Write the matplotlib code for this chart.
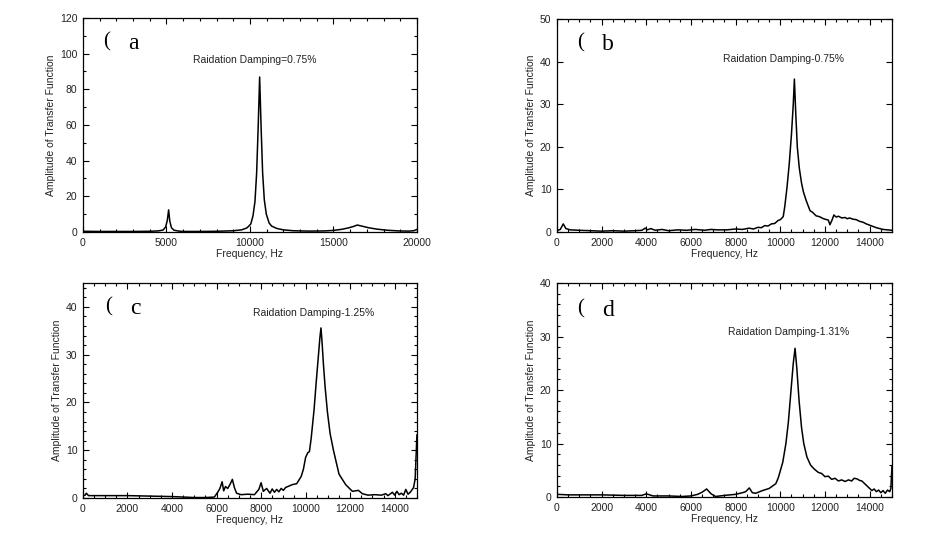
import matplotlib
matplotlib.use("Agg")
import matplotlib.pyplot as plt
from matplotlib.ticker import MultipleLocator, NullLocator

plt.rcParams["font.family"] = ["Liberation Sans", "DejaVu Sans"]

# --- data (Hz, amplitude) ---
freq_a = [0, 1000, 2000, 3000, 4000, 4500, 4800, 4950, 5050, 5130, 5200, 5300,
          5450, 5750, 6000, 7000, 8000, 9000, 9500, 9800, 9900, 10050, 10180,
          10300, 10400, 10490, 10580, 10670, 10760, 10860, 10980, 11150, 11300,
          11600, 12000, 12600, 13500, 14500, 15000, 15500, 15900, 16200, 16430,
          16700, 17100, 17600, 18200, 18900, 19500, 19800, 20000]
amp_a = [0.4, 0.3, 0.3, 0.3, 0.4, 0.6, 1.1, 2.8, 6.5, 12.4, 6.0, 2.4,
         1.0, 0.5, 0.3, 0.3, 0.4, 0.7, 1.2, 2.2, 3.0, 4.5, 9.0,
         17.0, 33.0, 58.0, 86.9, 58.0, 33.0, 18.0, 10.0, 5.0, 3.3,
         2.0, 1.2, 0.7, 0.5, 0.6, 0.9, 1.5, 2.3, 3.1, 3.9,
         3.3, 2.4, 1.6, 1.0, 0.6, 0.5, 0.7, 1.4]

freq_b = [0, 150, 280, 400, 600, 1000, 1500, 2000, 2500, 3000, 3500, 3800, 3950,
          4050, 4200, 4400, 4700, 5000, 5400, 5800, 6200, 6600, 6900, 7200, 7600,
          8000, 8300, 8600, 8800, 9000, 9150, 9300, 9450, 9600, 9750, 9900, 10000,
          10130, 10200, 10300, 10400, 10500, 10580, 10630, 10690, 10760, 10850,
          10950, 11030, 11150, 11330, 11450, 11600, 11750, 11900, 12000, 12150,
          12220, 12300, 12400, 12500, 12600, 12750, 12900, 13000, 13100, 13250,
          13400, 13550, 13700, 13850, 14000, 14150, 14300, 14450, 14600, 14800, 15000]
amp_b = [0.3, 0.6, 1.9, 0.8, 0.5, 0.4, 0.3, 0.2, 0.3, 0.2, 0.3, 0.4, 0.9,
         0.5, 0.8, 0.4, 0.6, 0.3, 0.5, 0.4, 0.6, 0.4, 0.6, 0.5, 0.5,
         0.7, 0.6, 0.9, 0.7, 1.1, 1.0, 1.5, 1.4, 1.9, 2.0, 2.7, 2.9,
         3.6, 6.0, 10.5, 16.0, 23.0, 30.0, 35.9, 28.0, 20.0, 15.0,
         11.5, 9.5, 7.5, 5.0, 4.6, 3.8, 3.6, 3.2, 3.0, 2.8,
         1.7, 2.6, 4.0, 3.5, 3.7, 3.3, 3.4, 3.1, 3.3, 3.0,
         2.9, 2.5, 2.3, 1.9, 1.6, 1.3, 1.0, 0.8, 0.6, 0.5, 0.4]

freq_c = [0, 100, 150, 250, 1000, 2000, 3000, 4000, 4500, 5000, 5500, 5900, 6050,
          6150, 6250, 6320, 6400, 6500, 6600, 6710, 6800, 6900, 7100, 7400, 7700,
          7900, 8000, 8100, 8250, 8400, 8500, 8600, 8700, 8800, 8900, 9000, 9100,
          9200, 9400, 9600, 9800, 9900, 10000, 10100, 10170, 10250, 10380, 10480,
          10570, 10640, 10690, 10740, 10800, 10880, 10980, 11100, 11250, 11500,
          11800, 12100, 12370, 12550, 12800, 13100, 13400, 13600, 13700, 13900,
          14000, 14100, 14200, 14300, 14400, 14500, 14600, 14700, 14850, 14920, 15000]
amp_c = [0.5, 0.6, 1.0, 0.5, 0.5, 0.5, 0.4, 0.3, 0.2, 0.1, 0.1, 0.2, 1.2,
         2.0, 3.4, 1.5, 2.4, 2.0, 2.8, 3.9, 2.2, 1.0, 0.7, 0.8, 0.7,
         1.8, 3.2, 1.4, 2.0, 1.0, 1.9, 1.2, 1.8, 1.3, 2.0, 1.6, 2.2,
         2.4, 2.8, 3.0, 4.5, 6.0, 8.5, 9.5, 9.7, 12.5, 18.5, 24.5,
         29.5, 33.5, 35.6, 32.5, 28.0, 23.0, 18.0, 13.5, 10.0, 5.0,
         2.8, 1.4, 1.6, 0.9, 0.6, 0.7, 0.6, 0.9, 0.5, 1.2,
         0.6, 1.4, 0.7, 1.0, 0.6, 1.8, 0.8, 1.2, 2.2, 4.0, 13.2]

freq_d = [0, 500, 1000, 2000, 3000, 3800, 4000, 4300, 5000, 5600, 6000, 6300,
          6500, 6700, 6900, 7100, 7500, 8000, 8300, 8450, 8610, 8750, 8900, 9200,
          9500, 9800, 9910, 10110, 10250, 10360, 10480, 10580, 10660, 10740, 10840,
          10950, 11050, 11190, 11350, 11500, 11700, 11850, 12000, 12150, 12300, 12450,
          12600, 12750, 12900, 13050, 13200, 13300, 13430, 13550, 13650, 13750,
          13850, 14000, 14100, 14200, 14300, 14400, 14500, 14600, 14700, 14800,
          14900, 14950, 15000]
amp_d = [0.5, 0.4, 0.4, 0.4, 0.3, 0.3, 0.6, 0.2, 0.2, 0.1, 0.2, 0.5,
         0.9, 1.5, 0.6, 0.1, 0.3, 0.5, 0.8, 1.0, 1.7, 0.8, 0.7, 1.2,
         1.6, 2.5, 3.6, 6.5, 10.0, 14.0, 20.0, 25.0, 27.8, 24.0, 18.0,
         13.0, 10.0, 7.5, 6.0, 5.3, 4.6, 4.4, 3.8, 3.9, 3.3, 3.5,
         3.0, 3.2, 2.9, 3.2, 3.0, 3.5, 3.4, 3.1, 3.0, 2.6,
         2.2, 1.6, 1.2, 1.5, 1.0, 1.3, 0.8, 1.2, 0.7, 1.3,
         1.0, 1.6, 5.8]

damping = ["Raidation Damping=0.75%", "Raidation Damping-0.75%",
           "Raidation Damping-1.25%", "Raidation Damping-1.31%"]
letters = ["a", "b", "c", "d"]

TXT = "#222222"

fig = plt.figure(figsize=(9.45, 5.57), dpi=100)
boxes = [(0.0878, 0.5835, 0.3534, 0.3842),
         (0.5894, 0.5835, 0.3545, 0.3824),
         (0.0878, 0.1059, 0.3534, 0.3860),
         (0.5894, 0.1077, 0.3545, 0.3842)]
series = [(freq_a, amp_a), (freq_b, amp_b), (freq_c, amp_c), (freq_d, amp_d)]
xlims = [20000, 15000, 15000, 15000]
ylims = [120, 50, 45, 40]
xmaj = [5000, 2000, 2000, 2000]
xmin = [1000, 500, 500, 500]
ymaj = [20, 10, 10, 10]
ymin = [10, None, 2, 2]
# text anchor positions in axes fraction
dmp_pos = [(0.33, 0.805), (0.495, 0.81), (0.51, 0.86), (0.51, 0.77)]
lab_pos = [(0.06, 0.89), (0.06, 0.89), (0.065, 0.89), (0.06, 0.88)]

for i in range(4):
    ax = fig.add_axes(boxes[i])
    f, amp = series[i]
    ax.plot(f, amp, color="black", lw=1.1)
    ax.set_xlim(0, xlims[i])
    ax.set_ylim(0, ylims[i])
    ax.xaxis.set_major_locator(MultipleLocator(xmaj[i]))
    ax.xaxis.set_minor_locator(MultipleLocator(xmin[i]))
    ax.yaxis.set_major_locator(MultipleLocator(ymaj[i]))
    if ymin[i]:
        ax.yaxis.set_minor_locator(MultipleLocator(ymin[i]))
    else:
        ax.yaxis.set_minor_locator(NullLocator())
    ax.tick_params(which="both", direction="in", top=True, right=True,
                   labelsize=7.5, labelcolor=TXT, width=0.8)
    ax.tick_params(which="major", length=4.5, pad=4)
    ax.tick_params(which="minor", length=2.5)
    for s in ax.spines.values():
        s.set_linewidth(0.9)
    ax.set_xlabel("Frequency, Hz", fontsize=7.5, color=TXT, labelpad=1)
    ax.set_ylabel("Amplitude of Transfer Function", fontsize=7.5, color=TXT, labelpad=3)
    ax.text(dmp_pos[i][0], dmp_pos[i][1], damping[i], transform=ax.transAxes,
            fontsize=7.5, color=TXT, ha="left", va="center")
    lx, ly = lab_pos[i]
    ax.text(lx, ly, "(", transform=ax.transAxes, fontsize=15,
            family="Liberation Serif", ha="left", va="center")
    ax.text(lx + 0.075, ly - 0.01, letters[i], transform=ax.transAxes, fontsize=17,
            family="Liberation Serif", ha="left", va="center")

fig.savefig("out.png", dpi=100)
